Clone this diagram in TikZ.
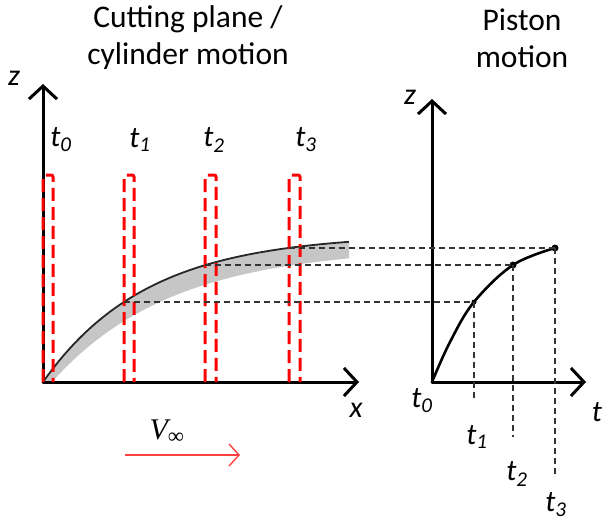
\documentclass[tikz,border=0pt]{standalone}
\usepackage{fontspec}
\setmainfont{Carlito}
\newfontfamily\timesfont{Liberation Serif}
\usetikzlibrary{arrows.meta}

\begin{document}
\begin{tikzpicture}[
  x=1pt, y=-1pt,
  axis/.style={line width=3pt, line cap=round, -{Straight Barb[length=13pt, width=28pt, line width=3pt]}},
  plane/.style={draw=red, dashed, dash pattern=on 13pt off 6pt, line width=3pt, rounded corners=2pt},
  guide/.style={dashed, dash pattern=on 6pt off 4pt, line width=1.2pt, black!80},
  title/.style={font=\fontsize{31.5}{37}\selectfont, align=center},
  lab/.style={font=\fontsize{30}{34}\selectfont\itshape, inner sep=0pt},
  dot/.style={circle, fill=black, inner sep=0pt, minimum size=7pt},
]
  \useasboundingbox (0,0) rectangle (603,525);

  % Titles
  \node[title] (ttl1) at (188,38) {Cutting plane /\\cylinder motion};
  \node[title] (ttl2) at (522,38) {Piston\\motion};

  % Left plot
  \coordinate (o1) at (43,382);
  \coordinate (ztop1) at (43,84);
  \coordinate (xend1) at (359,382);
  \coordinate (c1) at (124,302);
  \coordinate (c2) at (205,265);
  \coordinate (c3) at (289,248);

  \fill[gray!45] plot[domain=43:349, samples=60] (\x, {382-148*(1-exp(-(\x-43)/104))})
    -- plot[domain=349:52, samples=60] (\x, {382-135*(1-exp(-(\x-52)/120))}) -- cycle;
  \draw[gray!30!black, line width=1.8pt] plot[domain=43:349, samples=60] (\x, {382-148*(1-exp(-(\x-43)/104))});

  \draw[axis] (o1) -- (ztop1);
  \draw[axis] (o1) -- (xend1);

  % Cutting planes
  \foreach \xa/\xb in {43/53, 124/134, 205/216, 289/300}
    \draw[plane] (\xa,382) -- (\xa,175) -- (\xb,175) -- (\xb,382);

  \node[lab] (lt0) at (61,140) {t\textsubscript{0}};
  \node[lab] (lt1) at (140,140) {t\textsubscript{1}};
  \node[lab] (lt2) at (214,140) {t\textsubscript{2}};
  \node[lab] (lt3) at (306,140) {t\textsubscript{3}};
  \node[lab] (lz) at (14,78) {z};
  \node[lab] (lx) at (356,410) {x};

  % Free stream
  \coordinate (va) at (125,455);
  \coordinate (vb) at (240,455);
  \draw[red!75, line width=1.4pt, -{Straight Barb[length=10pt, width=22pt, line width=1.4pt]}] (va) -- (vb);
  \node[font=\fontsize{30}{34}\timesfont\itshape, inner sep=0pt] (vinf) at (167,432) {V\textsubscript{\fontsize{22}{24}\selectfont ∞}};

  % Right plot
  \coordinate (o2) at (432,382);
  \coordinate (ztop2) at (432,99);
  \coordinate (tend2) at (586,382);
  \coordinate (p1) at (474,302);
  \coordinate (p2) at (513,265);
  \coordinate (p3) at (555,248);

  \draw[axis] (o2) -- (ztop2);
  \draw[axis] (o2) -- (tend2);
  \draw[line width=2.6pt] plot[smooth, tension=0.6] coordinates {(432,382) (450,342) (474,302) (513,265) (555,248)};
  \node[dot] at (p2) {};
  \node[dot] at (p3) {};
  \node[dot, minimum size=5pt] at (p1) {};

  % Projection lines
  \draw[guide] (c1) -- (p1);
  \draw[guide] (c2) -- (p2);
  \draw[guide] (c3) -- (p3);
  \draw[guide] (p1) -- (474,398);
  \draw[guide] (p2) -- (513,437);
  \draw[guide] (p3) -- (555,475);

  \node[lab] (rz) at (410,97) {z};
  \node[lab] (rt) at (597,412) {t};
  \node[lab] (rt0) at (422,401) {t\textsubscript{0}};
  \node[lab] (rt1) at (477,437) {t\textsubscript{1}};
  \node[lab] (rt2) at (517,474) {t\textsubscript{2}};
  \node[lab] (rt3) at (556,505) {t\textsubscript{3}};
\end{tikzpicture}
\end{document}
